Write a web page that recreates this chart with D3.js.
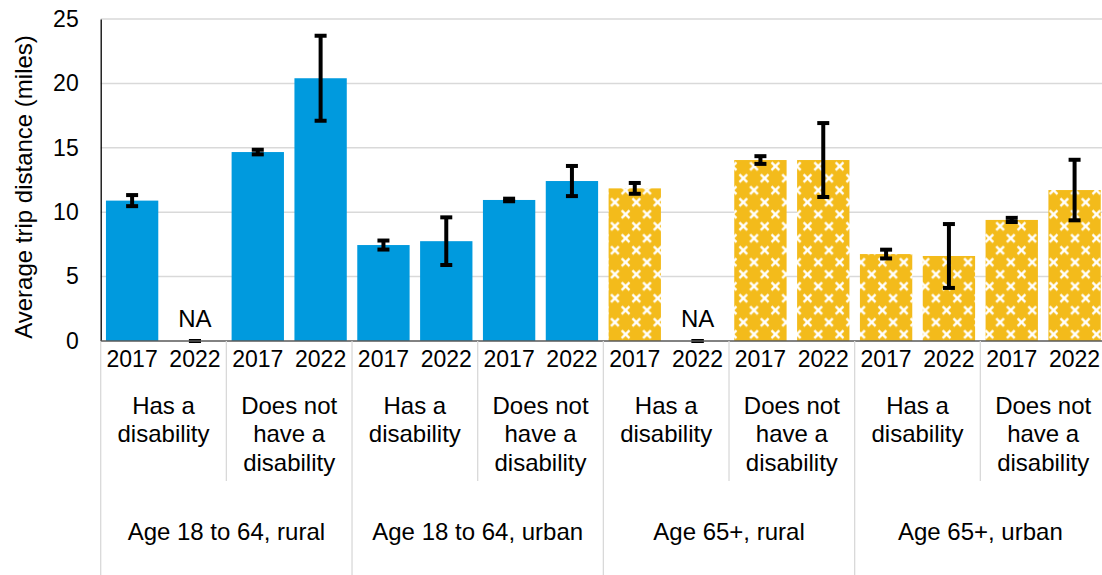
<!DOCTYPE html>
<html>
<head>
<meta charset="utf-8">
<script src="https://cdn.jsdelivr.net/npm/d3@7"></script>
<style>
  html, body { margin: 0; padding: 0; background: #fff; overflow: hidden; }
  svg { display: block; font-family: "Liberation Sans", Arial, sans-serif; }
</style>
</head>
<body>
<svg id="chart" width="1102" height="575"></svg>
<script>
// Groups of respondents, disability status and survey year
const groups = ["Age 18 to 64, rural", "Age 18 to 64, urban", "Age 65+, rural", "Age 65+, urban"];
const statuses = [["Has a", "disability"], ["Does not", "have a", "disability"]];
const years = ["2017", "2022"];

// Average trip distance (miles), in order group > status > year; null = NA
const values = [10.9, null, 14.67, 20.4, 7.45, 7.75, 10.95, 12.42, 11.85, null, 14.05, 14.05, 6.75, 6.6, 9.4, 11.72];
// Half-width of the error bars (miles)
const errors = [0.43, 0, 0.18, 3.3, 0.35, 1.85, 0.1, 1.17, 0.42, 0, 0.3, 2.87, 0.34, 2.48, 0.16, 2.35];

const yTicks = [0, 5, 10, 15, 20, 25];

const svg = d3.select("#chart");
const x0 = 100.7, x1 = 1106, yBase = 341, yTop = 19;
const wordSize = 24, numSize = 23;

const rows = [];
groups.forEach((g, gi) => statuses.forEach((s, si) => years.forEach((yr, yi) => {
  const i = gi * 4 + si * 2 + yi;
  rows.push({ key: i, group: g, gi, si, year: yr, value: values[i], err: errors[i] });
})));

const x = d3.scaleBand().domain(rows.map(d => d.key)).range([x0, x1])
  .paddingInner(0.167).paddingOuter(0.0835);
const step = x.step();
const y = d3.scaleLinear().domain([0, 25]).range([yBase, yTop]);

// cross pattern for the 65+ groups
const defs = svg.append("defs");
const pw = 21.4, ph = 24;
const pat = defs.append("pattern").attr("id", "xpat").attr("patternUnits", "userSpaceOnUse")
  .attr("width", pw).attr("height", ph).attr("x", 10.35).attr("y", 4.3);
pat.append("rect").attr("width", pw).attr("height", ph).attr("fill", "#f3bb1b");
[[5.35, 6], [16.05, 18]].forEach(([cx, cy]) => {
  const r = 3.9;
  pat.append("path")
    .attr("d", `M${cx - r},${cy - r}L${cx + r},${cy + r}M${cx - r},${cy + r}L${cx + r},${cy - r}`)
    .attr("stroke", "#fff").attr("stroke-width", 2.3);
});

// gridlines
svg.append("g").selectAll("line").data(yTicks.filter(t => t > 0)).join("line")
  .attr("x1", x0).attr("x2", 1102).attr("y1", d => y(d)).attr("y2", d => y(d))
  .attr("stroke", "#d9d9d9").attr("stroke-width", 1.5);

// y axis
const yAxis = svg.append("g").attr("transform", `translate(${x0},0)`)
  .call(d3.axisLeft(y).tickValues(yTicks).tickSize(0).tickPadding(22));
yAxis.select(".domain").attr("stroke", "#000").attr("stroke-width", 1.3);
yAxis.selectAll("text").attr("font-size", numSize).attr("fill", "#000")
  .attr("font-family", "Liberation Sans, Arial, sans-serif");

svg.append("text").attr("transform", `translate(32,187) rotate(-90)`)
  .attr("text-anchor", "middle").attr("font-size", wordSize).attr("fill", "#000")
  .text("Average trip distance (miles)");

// bars
svg.append("g").selectAll("rect").data(rows.filter(d => d.value != null)).join("rect")
  .attr("x", d => x(d.key)).attr("width", x.bandwidth())
  .attr("y", d => y(d.value)).attr("height", d => yBase - y(d.value))
  .attr("fill", d => d.gi < 2 ? "#009ade" : "url(#xpat)");

// error bars
const eb = svg.append("g").selectAll("g").data(rows).join("g")
  .attr("transform", d => `translate(${x(d.key) + x.bandwidth() / 2},0)`);
const v = d => d.value == null ? 0 : d.value;
eb.append("line").attr("y1", d => y(v(d) + d.err)).attr("y2", d => y(v(d) - d.err))
  .attr("stroke", "#000").attr("stroke-width", 4);
eb.append("line").attr("x1", -6).attr("x2", 6)
  .attr("y1", d => y(v(d) + d.err)).attr("y2", d => y(v(d) + d.err))
  .attr("stroke", "#000").attr("stroke-width", 4);
eb.append("line").attr("x1", -6).attr("x2", 6)
  .attr("y1", d => y(v(d) - d.err)).attr("y2", d => y(v(d) - d.err))
  .attr("stroke", "#000").attr("stroke-width", 4);

// NA labels
svg.append("g").selectAll("text").data(rows.filter(d => d.value == null)).join("text")
  .attr("x", d => x(d.key) + x.bandwidth() / 2).attr("y", 327)
  .attr("text-anchor", "middle").attr("font-size", wordSize).attr("fill", "#000").text("NA");

// x axis baseline
svg.append("line").attr("x1", x0).attr("x2", 1102).attr("y1", yBase).attr("y2", yBase)
  .attr("stroke", "#595959").attr("stroke-width", 1.5);

// category separators
const sep = svg.append("g").attr("stroke", "#d9d9d9").attr("stroke-width", 1.3);
d3.range(0, 9).forEach(k => {
  const xx = x0 + k * 2 * step;
  const full = k % 2 === 0;
  sep.append("line").attr("x1", xx).attr("x2", xx).attr("y1", yBase)
    .attr("y2", full ? 575 : 481);
});

// year labels
svg.append("g").selectAll("text").data(rows).join("text")
  .attr("x", d => x(d.key) + x.bandwidth() / 2).attr("y", 367)
  .attr("text-anchor", "middle").attr("font-size", numSize).attr("fill", "#000").text(d => d.year);

// disability status labels
const statusData = [];
groups.forEach((g, gi) => statuses.forEach((s, si) => statusData.push({ gi, si, lines: s })));
const st = svg.append("g").selectAll("text").data(statusData).join("text")
  .attr("text-anchor", "middle").attr("font-size", wordSize).attr("fill", "#000")
  .attr("x", d => x0 + (d.gi * 4 + d.si * 2 + 1) * step);
st.selectAll("tspan").data(d => d.lines).join("tspan")
  .attr("x", function () { return d3.select(this.parentNode).attr("x"); })
  .attr("y", (d, i) => 414 + i * 28.3).text(d => d);

// group labels
svg.append("g").selectAll("text").data(groups).join("text")
  .attr("x", (d, i) => x0 + (i * 4 + 2) * step).attr("y", 540)
  .attr("text-anchor", "middle").attr("font-size", wordSize).attr("fill", "#000").text(d => d);
</script>
</body>
</html>
